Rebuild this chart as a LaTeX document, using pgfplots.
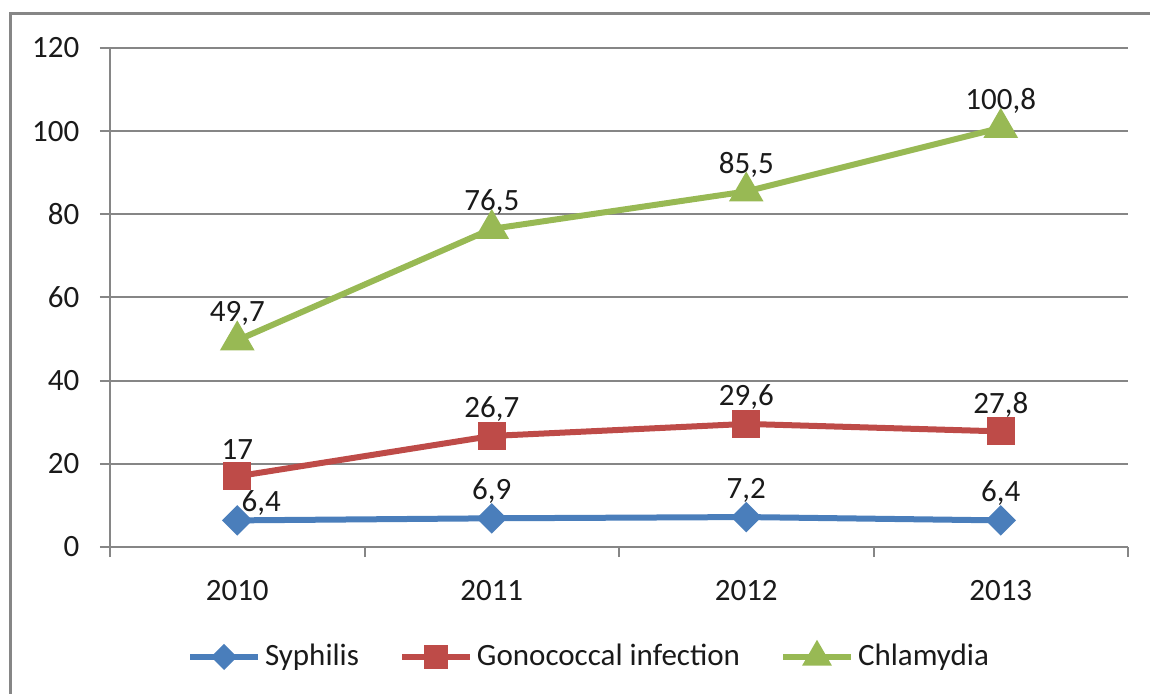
\documentclass[border=0pt]{standalone}
\usepackage{pgfplots}
\pgfplotsset{compat=1.18}
\usepackage{fontspec}
\setmainfont{Carlito}
\definecolor{sBlue}{HTML}{4A7EBB}
\definecolor{sRed}{HTML}{BE4B48}
\definecolor{sGreen}{HTML}{98B954}
\definecolor{gridgray}{HTML}{868686}
\definecolor{txt}{HTML}{1A1A1A}
\begin{document}
\fontsize{15.5pt}{18pt}\selectfont
\begin{tikzpicture}
\useasboundingbox (0,0) rectangle (575pt,-347pt);
\draw[gridgray, line width=1.5pt] (5pt,-360pt) -- (5pt,-7pt) -- (590pt,-7pt);
\begin{axis}[
  at={(55pt,-273.5pt)}, anchor=south west,
  scale only axis, width=509pt, height=249.5pt,
  clip=false,
  xmin=-0.5, xmax=3.5, ymin=0, ymax=120,
  ytick={0,20,...,120},
  xtick={-0.5,0.5,1.5,2.5,3.5}, xticklabels={},
  extra x ticks={0,1,2,3},
  extra x tick labels={2010,2011,2012,2013},
  extra x tick style={major tick length=0pt, grid=none, xticklabel style={yshift=-11.5pt}},
  axis x line*=bottom, axis y line*=left,
  axis line style={-, gridgray, line width=1pt},
  ymajorgrids, grid style={gridgray, line width=1pt},
  tick align=outside, major tick length=5pt,
  tick style={gridgray, line width=1pt},
  /pgf/number format/assume math mode=true,
  ticklabel style={font=\fontsize{15.5pt}{18pt}\selectfont, text=txt},
  yticklabel style={xshift=-5pt},
  point meta=explicit symbolic,
  nodes near coords,
  every node near coord/.append style={anchor=center, yshift=13.5pt, font=\fontsize{15.5pt}{18pt}\selectfont, text=txt},
  legend style={at={(0.4715,-0.2204)}, anchor=center, draw=none, fill=none,
    font=\fontsize{15.5pt}{18pt}\selectfont, text=txt,
    /tikz/every even column/.append style={column sep=18pt},
    /tikz/every odd column/.append style={column sep=0pt}},
  legend columns=3,
  legend image code/.code={\draw[mark repeat=2, mark phase=2, #1, every mark/.append style={scale=0.8}] plot coordinates {(0pt,0pt)(17pt,0pt)(34pt,0pt)};},
]
\addplot[sBlue, line width=3pt, mark=square*, mark size=3.9pt, mark options={rotate=45, solid, fill=sBlue}]
  coordinates {(0,6.4) [] (1,6.9) [6,9] (2,7.2) [7,2] (3,6.4) [6,4]};
\addlegendentry{Syphilis}
\addplot[sRed, line width=3pt, mark=square*, mark size=5.5pt, mark options={solid, fill=sRed}]
  coordinates {(0,17) [17] (1,26.7) [26,7] (2,29.6) [29,6] (3,27.8) [27,8]};
\addlegendentry{Gonococcal infection}
\addplot[sGreen, line width=3pt, mark=triangle*, mark size=7pt, mark options={solid, fill=sGreen}]
  coordinates {(0,49.7) [49,7] (1,76.5) [76,5] (2,85.5) [85,5] (3,100.8) [100,8]};
\addlegendentry{Chlamydia}
\addplot[draw=none, forget plot, nodes near coords, every node near coord/.append style={xshift=12pt, yshift=-5pt}]
  coordinates {(0,6.4) [6,4]};
\end{axis}
\end{tikzpicture}
\end{document}
